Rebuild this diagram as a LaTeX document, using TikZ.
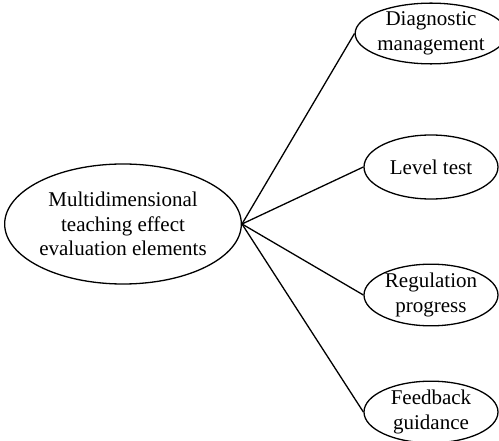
\documentclass[tikz,border=0pt]{standalone}
\usepackage{fontspec}
\setmainfont{Liberation Serif}
\usetikzlibrary{shapes.geometric}
\begin{document}
\begin{tikzpicture}[x=1pt,y=-1pt,
  ell/.style={draw=black,line width=1.3pt,ellipse,inner sep=0pt,align=center,
    font=\fontsize{21}{24.5}\selectfont},
  big/.style={ell,minimum width=232pt,minimum height=120pt},
  small/.style={ell,minimum width=134pt,minimum height=#1},
  conn/.style={line width=1.3pt}]
\useasboundingbox (0,0) rectangle (499,441);
\node[big] (m) at (123,224) {Multidimensional\\teaching effect\\evaluation elements};
\node[small=59pt] (d) at (431,33.5) {Diagnostic\\management};
\node[small=64pt] (l) at (431,167) {Level test};
\node[small=60pt] (r) at (431,295) {Regulation\\progress};
\node[small=58pt] (f) at (431,412) {Feedback\\guidance};
\draw[conn] (m.east) -- (d.west);
\draw[conn] (m.east) -- (l.west);
\draw[conn] (m.east) -- (r.west);
\draw[conn] (m.east) -- (f.west);
\end{tikzpicture}
\end{document}
